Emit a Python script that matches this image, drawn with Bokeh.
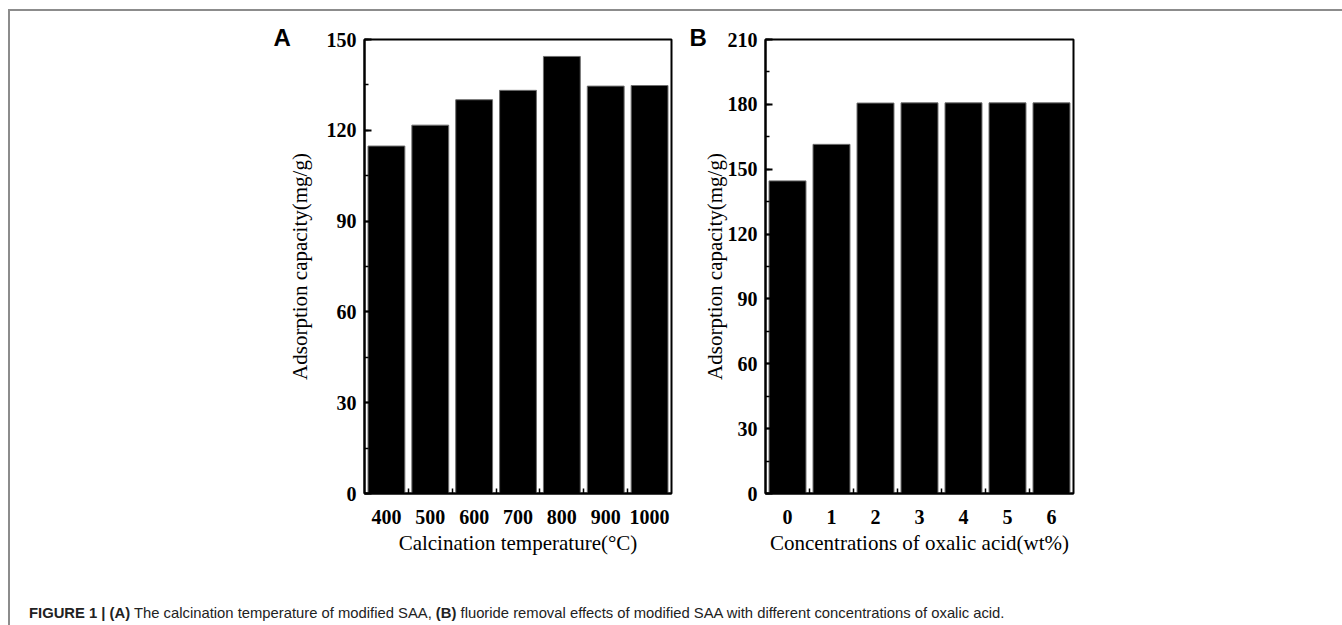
from bokeh.plotting import figure
from bokeh.layouts import row, column
from bokeh.models import FixedTicker, SingleIntervalTicker, Title, Div
from bokeh.embed import file_html
from bokeh.resources import INLINE

# Panel A: calcination temperature series
temps = ["400", "500", "600", "700", "800", "900", "1000"]
cap_temp = [114.8, 121.7, 130.1, 133.2, 144.4, 134.6, 134.8]

# Panel B: oxalic acid concentration series
acid = ["0", "1", "2", "3", "4", "5", "6"]
cap_acid = [144.6, 161.5, 180.6, 180.7, 180.7, 180.7, 180.7]

y_title = "Adsorption capacity(mg/g)"
x_title_a = "Calcination temperature(\u00b0C)"
x_title_b = "Concentrations of oxalic acid(wt%)"

SERIF = "Liberation Serif"
SANS = "Liberation Sans"


def bar_panel(cats, vals, ymax, xtitle, letter, width, height,
              border, ylab_standoff, letter_dx):
    left, right, top, bottom = border
    # the panel letter sits in the title slot, pulled left of the frame
    letter_title = Title(text=letter, align="left", offset=letter_dx,
                         standoff=-22, vertical_align="bottom",
                         text_font=SANS, text_font_style="bold",
                         text_font_size="24px", text_color="black",
                         text_line_height=1.0)
    p = figure(width=width, height=height, title=letter_title,
               x_range=(-0.5, len(cats) - 0.5), y_range=(0, ymax),
               output_backend="svg", toolbar_location=None,
               min_border_left=left, min_border_right=right,
               min_border_top=top, min_border_bottom=bottom)
    xs = list(range(len(cats)))
    p.vbar(x=xs, top=vals, width=0.84, fill_color="black",
           line_color="#6e6e6e", line_width=1)

    p.xgrid.visible = False
    p.ygrid.visible = False
    p.outline_line_color = "black"
    p.outline_line_width = 2
    p.outline_line_alpha = 1.0
    p.background_fill_color = "white"
    p.border_fill_color = "white"

    ya = p.yaxis[0]
    ya.ticker = SingleIntervalTicker(interval=30, num_minor_ticks=2)
    ya.axis_line_width = 2
    ya.major_tick_in = 7
    ya.major_tick_out = 0
    ya.minor_tick_in = 4
    ya.minor_tick_out = 0
    ya.major_tick_line_width = 2
    ya.minor_tick_line_width = 1.5
    ya.major_label_text_font = SERIF
    ya.major_label_text_font_style = "bold"
    ya.major_label_text_font_size = "20px"
    ya.major_label_text_color = "black"
    ya.major_label_standoff = 8
    ya.axis_label = y_title
    ya.axis_label_text_font = SERIF
    ya.axis_label_text_font_style = "normal"
    ya.axis_label_text_font_size = "21px"
    ya.axis_label_text_color = "black"
    ya.axis_label_standoff = ylab_standoff

    xa = p.xaxis[0]
    xa.ticker = FixedTicker(ticks=xs, minor_ticks=[i + 0.5 for i in xs[:-1]])
    xa.major_label_overrides = {i: c for i, c in zip(xs, cats)}
    xa.axis_line_width = 2
    xa.major_tick_in = 0
    xa.major_tick_out = 0
    xa.minor_tick_in = 5
    xa.minor_tick_out = 0
    xa.minor_tick_line_width = 1.5
    xa.major_label_text_font = SERIF
    xa.major_label_text_font_style = "bold"
    xa.major_label_text_font_size = "20px"
    xa.major_label_text_color = "black"
    xa.major_label_standoff = 16
    xa.axis_label = xtitle
    xa.axis_label_text_font = SERIF
    xa.axis_label_text_font_style = "normal"
    xa.axis_label_text_font_size = "21px"
    xa.axis_label_text_color = "black"
    xa.axis_label_standoff = 4
    return p


pa = bar_panel(temps, cap_temp, 150, x_title_a, "A", 679, 560,
               (354, 18, 28, 73), 12, -91)
pb = bar_panel(acid, cap_acid, 210, x_title_b, "B", 652, 560,
               (76, 268, 24, 78), -2, -76)

caption = Div(
    text=("<b>FIGURE 1 | (A)</b> The calcination temperature of modified SAA, "
          "<b>(B)</b> fluoride removal effects of modified SAA with different "
          "concentrations of oxalic acid."),
    width=1331, height=53,
    styles={"font-family": SANS, "font-size": "14.8px", "color": "#222222",
            "padding-top": "27px", "padding-left": "14px",
            "white-space": "nowrap"})

layout = column(row(pa, pb), caption,
                styles={"border-top": "2px solid #8c8c8c",
                        "border-left": "2px solid #8c8c8c"},
                margin=(9, 0, 0, 8))

open("out.html", "w").write(file_html(layout, INLINE))
